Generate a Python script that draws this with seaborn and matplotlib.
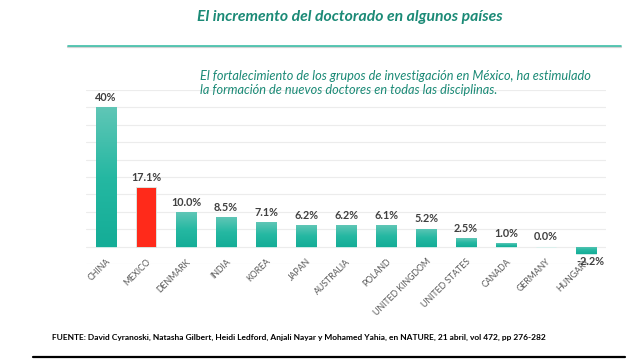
import numpy as np
import pandas as pd
import seaborn as sns
import matplotlib.pyplot as plt
from matplotlib.lines import Line2D

# data
countries = ["CHINA", "MEXICO", "DENMARK", "INDIA", "KOREA", "JAPAN", "AUSTRALIA",
             "POLAND", "UNITED KINGDOM", "UNITED STATES", "CANADA", "GERMANY", "HUNGARY"]
growth = [40, 17.1, 10.0, 8.5, 7.1, 6.2, 6.2, 6.1, 5.2, 2.5, 1.0, 0.0, -2.2]
value_labels = ["40%", "17.1%", "10.0%", "8.5%", "7.1%", "6.2%", "6.2%", "6.1%",
                "5.2%", "2.5%", "1.0%", "0.0%", "-2.2%"]

title = "El incremento del doctorado en algunos países"
subtitle = ("El fortalecimiento de los grupos de investigación en México, ha estimulado\n"
            "la formación de nuevos doctores en todas las disciplinas.")
source = ("FUENTE: David Cyranoski, Natasha Gilbert, Heidi Ledford, Anjali Nayar y "
          "Mohamed Yahia, en NATURE, 21 abril, vol 472, pp 276-282")

teal = "#1db59f"
red = "#ff2a1a"
green_txt = "#1b8a76"

sns.set_theme(style="white")
plt.rcParams["font.family"] = ["Lato", "DejaVu Sans"]

df = pd.DataFrame({"country": countries, "growth": growth})

fig = plt.figure(figsize=(6.39, 3.61), dpi=100)
ax = fig.add_axes([0.1346, 0.2687, 0.8138, 0.482])

palette = [red if c == "MEXICO" else teal for c in countries]
sns.barplot(data=df, x="country", y="growth", hue="country", palette=palette,
            legend=False, width=0.5, saturation=1, ax=ax,
            edgecolor="#d8f0ec", linewidth=0.6)

# vertical gradient on the bars, clipped to each bar
grad = np.linspace(0, 1, 64).reshape(-1, 1)
cmap = sns.blend_palette(["#14ad97", "#25b8a2", "#5fc6b6"], as_cmap=True)
for p, c in zip(ax.patches, countries):
    if c == "MEXICO":
        continue
    x0, y0 = p.get_x(), min(p.get_y(), p.get_y() + p.get_height())
    h = abs(p.get_height())
    if h == 0:
        continue
    im = ax.imshow(grad, cmap=cmap, aspect="auto", origin="lower",
                   extent=[x0, x0 + p.get_width(), y0, y0 + h], zorder=p.get_zorder())
    im.set_clip_path(p)

ax.set_xlim(-0.5, 12.5)
ax.set_ylim(-5, 45)
ax.set_yticks(np.arange(-5, 46, 5))
ax.set_yticklabels([])
ax.tick_params(axis="y", length=0)
ax.grid(axis="y", color="#ececec", linewidth=0.8)
ax.set_axisbelow(True)
sns.despine(ax=ax, left=True, bottom=True)
ax.set_xlabel("")
ax.set_ylabel("")

ax.set_xticks(range(len(countries)))
ax.set_xticklabels(countries, rotation=45, ha="right", rotation_mode="anchor",
                   fontsize=6.3, color="#595959")
ax.tick_params(axis="x", length=0, pad=-5)

for i, (v, lab) in enumerate(zip(growth, value_labels)):
    if v < 0:
        ax.annotate(lab, (i + 0.1, v), xytext=(0, -1), textcoords="offset points",
                    ha="center", va="top", fontsize=7.8, fontweight="bold", color="#404040")
    else:
        ax.annotate(lab, (i, v), xytext=(0, 3), textcoords="offset points",
                    ha="center", va="bottom", fontsize=7.8, fontweight="bold", color="#404040")

fig.text(0.548, 0.953, title, ha="center", va="center", fontsize=11.3,
         fontweight="bold", style="italic", color=green_txt)
fig.add_artist(Line2D([68 / 639, 621 / 639], [1 - 46.8 / 361, 1 - 46.8 / 361],
                      color="#d4d4d4", linewidth=1.6, transform=fig.transFigure))
fig.add_artist(Line2D([68 / 639, 621 / 639], [1 - 45.8 / 361, 1 - 45.8 / 361],
                      color="#3dbfa8", linewidth=1.2, transform=fig.transFigure))
fig.text(200 / 639, 1 - 70 / 361, subtitle, ha="left", va="top", fontsize=9.2,
         style="italic", color=green_txt, linespacing=1.15)
fig.text(52 / 639, 1 - 337 / 361, source, ha="left", va="center", fontsize=6.0,
         fontweight="bold", color="black")
fig.add_artist(Line2D([33 / 639, 625 / 639], [1 - 357 / 361, 1 - 357 / 361],
                      color="black", linewidth=1.6, transform=fig.transFigure))

fig.savefig("out.png", dpi=100)
